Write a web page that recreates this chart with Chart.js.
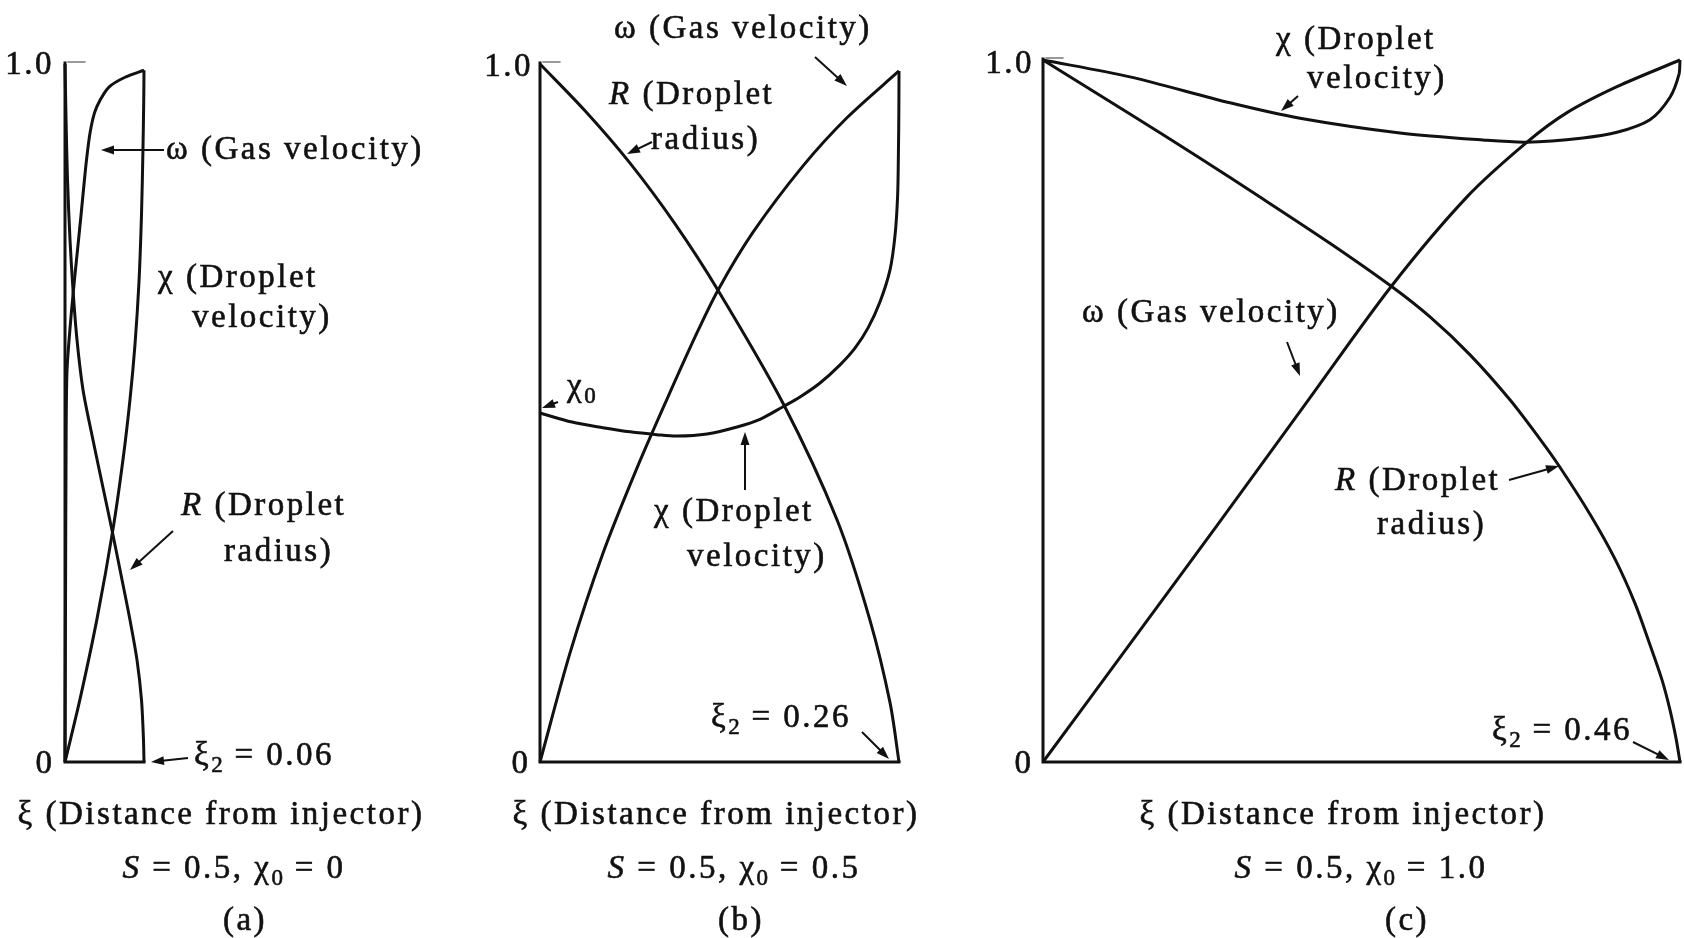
<!DOCTYPE html>
<html>
<head>
<meta charset="utf-8">
<script src="https://cdn.jsdelivr.net/npm/chart.js@4.4.1/dist/chart.umd.min.js"></script>
<style>
  html, body { margin: 0; background: #fff; }
  #wrap { position: relative; width: 1684px; height: 938px; }
  #wrap canvas { position: absolute; left: 0; top: 0; }
</style>
</head>
<body>
<div id="wrap">
  <canvas id="panelA" width="1684" height="938"></canvas>
  <canvas id="panelB" width="1684" height="938"></canvas>
  <canvas id="panelC" width="1684" height="938"></canvas>
</div>
<script>
// ---- datos: distancia adimensional xi y curvas omega / chi / R ----
const xiEndA = 0.06, xiEndB = 0.26, xiEndC = 0.46;

// (a) S = 0.5, chi0 = 0
const omegaA_xi = [0, 0.0004, 0.0008, 0.0015, 0.0042, 0.0072, 0.0099, 0.0122, 0.0144, 0.0163, 0.019, 0.0224, 0.0266, 0.0334, 0.0456, 0.06];
const omegaA    = [0, 0.232, 0.44, 0.559, 0.63, 0.691, 0.741, 0.784, 0.827, 0.862, 0.901, 0.93, 0.948, 0.967, 0.981, 0.991];
const chiA_xi   = [0, 0.0114, 0.0243, 0.0365, 0.0441, 0.0494, 0.0532, 0.0562, 0.0581, 0.0592, 0.0598, 0.06];
const chiA      = [0, 0.09, 0.205, 0.334, 0.434, 0.52, 0.599, 0.688, 0.784, 0.877, 0.948, 0.991];
const rA_xi     = [0, 0.0008, 0.0019, 0.0038, 0.0061, 0.0091, 0.0137, 0.0213, 0.0292, 0.0357, 0.0433, 0.0494, 0.0547, 0.0581, 0.0596, 0.06];
const rA        = [1, 0.92, 0.834, 0.748, 0.676, 0.605, 0.533, 0.461, 0.39, 0.332, 0.261, 0.203, 0.146, 0.089, 0.032, 0];

// (b) S = 0.5, chi0 = 0.5
const omegaB_xi = [0, 0.0217, 0.0456, 0.0702, 0.092, 0.1123, 0.1289, 0.1543, 0.1905, 0.2223, 0.26];
const omegaB    = [0, 0.156, 0.299, 0.421, 0.52, 0.609, 0.676, 0.759, 0.854, 0.923, 0.99];
const chiB_xi   = [0, 0.0232, 0.0456, 0.0652, 0.0847, 0.0992, 0.1209, 0.1427, 0.1593, 0.176, 0.1883, 0.2028, 0.2173, 0.2281, 0.2376, 0.2462, 0.2535, 0.2571, 0.259, 0.2596, 0.2599, 0.26];
const chiB      = [0.5, 0.487, 0.479, 0.473, 0.469, 0.467, 0.47, 0.48, 0.491, 0.509, 0.523, 0.543, 0.569, 0.593, 0.622, 0.659, 0.705, 0.754, 0.811, 0.876, 0.934, 0.99];
const rB_xi     = [0, 0.0326, 0.0652, 0.0978, 0.1289, 0.176, 0.2151, 0.239, 0.2535, 0.26];
const rB        = [1, 0.933, 0.858, 0.771, 0.676, 0.514, 0.347, 0.203, 0.085, 0];

// (c) S = 0.5, chi0 = 1.0
const omegaC_xi = [0, 0.0635, 0.1264, 0.1892, 0.2513, 0.3062, 0.3495, 0.3784, 0.4145, 0.46];
const omegaC    = [0, 0.17, 0.339, 0.509, 0.677, 0.805, 0.883, 0.925, 0.962, 1.0];
const chiC_xi   = [0, 0.0628, 0.135, 0.1856, 0.2578, 0.3177, 0.3495, 0.39, 0.4145, 0.4383, 0.4528, 0.4593, 0.46];
const chiC      = [1, 0.976, 0.939, 0.917, 0.896, 0.886, 0.883, 0.889, 0.897, 0.915, 0.947, 0.98, 1.0];
const rC_xi     = [0, 0.0628, 0.1112, 0.1589, 0.2072, 0.2513, 0.2795, 0.3084, 0.3372, 0.3589, 0.3726, 0.395, 0.4131, 0.4275, 0.4383, 0.447, 0.4528, 0.4571, 0.46];
const rC        = [1, 0.923, 0.863, 0.802, 0.739, 0.678, 0.634, 0.58, 0.516, 0.46, 0.422, 0.353, 0.289, 0.226, 0.167, 0.117, 0.074, 0.034, 0];

const INK = '#111';
const FONT = '"Liberation Serif", "DejaVu Serif", serif';

// textos y flechas de cada panel (pixeles de pagina)
// partes: [texto, estilo] con estilo 'i' = cursiva, 's' = subindice
const notesA = [
  { parts: [['1.0']], x: 54, y: 74, align: 'right' },
  { parts: [['0']], x: 45, y: 773, align: 'center' },
  { parts: [['ω'], [' (Gas velocity)']], x: 166, y: 159 },
  { parts: [['χ'], [' (Droplet']], x: 158, y: 287 },
  { parts: [['velocity)']], x: 192, y: 327 },
  { parts: [['R', 'i'], [' (Droplet']], x: 181, y: 515 },
  { parts: [['radius)']], x: 224, y: 561 },
  { parts: [['ξ'], ['2', 's'], [' = 0.06']], x: 194, y: 765 },
  { parts: [['ξ'], [' (Distance from injector)']], x: 221, y: 824, align: 'center' },
  { parts: [['S', 'i'], [' = 0.5, '], ['χ'], ['0', 's'], [' = 0']], x: 234, y: 878, align: 'center' },
  { parts: [['(a)']], x: 245, y: 930, align: 'center' }
];
const arrowsA = [
  { from: [164, 150], to: [101, 150] },
  { from: [173, 531], to: [130, 570] },
  { from: [188, 758], to: [151, 762] }
];

const notesB = [
  { parts: [['1.0']], x: 533, y: 76, align: 'right' },
  { parts: [['0']], x: 521, y: 773, align: 'center' },
  { parts: [['ω'], [' (Gas velocity)']], x: 614, y: 38 },
  { parts: [['R', 'i'], [' (Droplet']], x: 609, y: 104 },
  { parts: [['radius)']], x: 651, y: 149 },
  { parts: [['χ'], ['0', 's']], x: 567, y: 396 },
  { parts: [['χ'], [' (Droplet']], x: 654, y: 521 },
  { parts: [['velocity)']], x: 687, y: 566 },
  { parts: [['ξ'], ['2', 's'], [' = 0.26']], x: 711, y: 727 },
  { parts: [['ξ'], [' (Distance from injector)']], x: 716, y: 824, align: 'center' },
  { parts: [['S', 'i'], [' = 0.5, '], ['χ'], ['0', 's'], [' = 0.5']], x: 734, y: 878, align: 'center' },
  { parts: [['(b)']], x: 741, y: 930, align: 'center' }
];
const arrowsB = [
  { from: [815, 57], to: [847, 86] },
  { from: [652, 142], to: [627, 154] },
  { from: [558, 402], to: [542, 408] },
  { from: [745, 490], to: [745, 432] },
  { from: [862, 732], to: [889, 759] }
];

const notesC = [
  { parts: [['1.0']], x: 1034, y: 73, align: 'right' },
  { parts: [['0']], x: 1024, y: 773, align: 'center' },
  { parts: [['χ'], [' (Droplet']], x: 1276, y: 49 },
  { parts: [['velocity)']], x: 1307, y: 88 },
  { parts: [['ω'], [' (Gas velocity)']], x: 1082, y: 322 },
  { parts: [['R', 'i'], [' (Droplet']], x: 1335, y: 490 },
  { parts: [['radius)']], x: 1377, y: 534 },
  { parts: [['ξ'], ['2', 's'], [' = 0.46']], x: 1492, y: 740 },
  { parts: [['ξ'], [' (Distance from injector)']], x: 1343, y: 824, align: 'center' },
  { parts: [['S', 'i'], [' = 0.5, '], ['χ'], ['0', 's'], [' = 1.0']], x: 1361, y: 878, align: 'center' },
  { parts: [['(c)']], x: 1407, y: 930, align: 'center' }
];
const arrowsC = [
  { from: [1298, 96], to: [1281, 111] },
  { from: [1287, 342], to: [1300, 376] },
  { from: [1509, 480], to: [1559, 466] },
  { from: [1633, 742], to: [1669, 760] }
];

function pts(xs, ys) {
  return xs.map((x, i) => ({ x: x, y: ys[i] }));
}

function partFont(style) {
  if (style === 's') return '23px ' + FONT;
  return (style === 'i' ? 'italic ' : '') + '33px ' + FONT;
}

function drawParts(ctx, note) {
  let total = 0;
  const segs = note.parts.map(p => {
    ctx.font = partFont(p[1]);
    ctx.letterSpacing = p[1] === 's' ? '1px' : '2.5px';
    const w = ctx.measureText(p[0]).width;
    total += w;
    return { text: p[0], style: p[1], w: w };
  });
  let x = note.x;
  if (note.align === 'center') x -= total / 2;
  if (note.align === 'right') x -= total;
  segs.forEach(s => {
    ctx.font = partFont(s.style);
    ctx.letterSpacing = s.style === 's' ? '1px' : '2.5px';
    const y = note.y + (s.style === 's' ? 7 : 0);
    ctx.fillText(s.text, x, y);
    ctx.strokeText(s.text, x, y);
    x += s.w;
  });
}

function drawArrow(ctx, a) {
  const [x1, y1] = a.from, [x2, y2] = a.to;
  const ang = Math.atan2(y2 - y1, x2 - x1);
  const len = 13, half = 4.5;
  ctx.beginPath();
  ctx.moveTo(x1, y1);
  ctx.lineTo(x2 - Math.cos(ang) * len * 0.7, y2 - Math.sin(ang) * len * 0.7);
  ctx.lineWidth = 2;
  ctx.stroke();
  ctx.beginPath();
  ctx.moveTo(x2, y2);
  ctx.lineTo(x2 - Math.cos(ang) * len - Math.sin(ang) * half, y2 - Math.sin(ang) * len + Math.cos(ang) * half);
  ctx.lineTo(x2 - Math.cos(ang) * len + Math.sin(ang) * half, y2 - Math.sin(ang) * len - Math.cos(ang) * half);
  ctx.closePath();
  ctx.fill();
}

// ejes, marca de 1.0, textos y flechas
const figurePlugin = {
  id: 'figura',
  beforeDatasetsDraw(chart, args, opts) {
    const ctx = chart.ctx;
    const xs = chart.scales.x, ys = chart.scales.y;
    const x0 = xs.getPixelForValue(0), x1 = xs.getPixelForValue(xs.max);
    const y0 = ys.getPixelForValue(0), y1 = ys.getPixelForValue(1);
    ctx.save();
    ctx.strokeStyle = INK;
    ctx.lineCap = 'square';
    ctx.lineWidth = 3;
    ctx.beginPath();
    ctx.moveTo(x0, y1 - 1);
    ctx.lineTo(x0, y0);
    ctx.lineTo(x1, y0);
    ctx.stroke();
    ctx.lineWidth = 1.2;
    ctx.strokeStyle = '#555';
    ctx.beginPath();
    ctx.moveTo(x0 + 3, y1 - 2);
    ctx.lineTo(x0 + 20, y1 - 2);
    ctx.stroke();
    ctx.restore();
  },
  afterDatasetsDraw(chart, args, opts) {
    const ctx = chart.ctx;
    ctx.save();
    ctx.fillStyle = INK;
    ctx.strokeStyle = INK;
    ctx.lineWidth = 0.6;
    ctx.textBaseline = 'alphabetic';
    ctx.textAlign = 'left';
    opts.notes.forEach(n => drawParts(ctx, n));
    opts.arrows.forEach(a => drawArrow(ctx, a));
    ctx.restore();
  }
};

function curve(label, xs, ys) {
  return {
    label: label,
    data: pts(xs, ys),
    showLine: true,
    borderColor: INK,
    borderWidth: 3,
    pointRadius: 0,
    tension: 0.3,
    fill: false,
    clip: false
  };
}

function makePanel(id, xiEnd, area, series, notes, arrows) {
  new Chart(document.getElementById(id), {
    type: 'scatter',
    data: { datasets: series },
    options: {
      responsive: false,
      animation: false,
      events: [],
      layout: {
        padding: { left: area.left, right: 1684 - area.right, top: area.top, bottom: 938 - area.bottom }
      },
      scales: {
        x: { type: 'linear', display: false, min: 0, max: xiEnd },
        y: { type: 'linear', display: false, min: 0, max: 1 }
      },
      plugins: {
        legend: { display: false },
        tooltip: { enabled: false },
        figura: { notes: notes, arrows: arrows }
      }
    },
    plugins: [figurePlugin]
  });
}

makePanel('panelA', xiEndA, { left: 65, right: 144, top: 64, bottom: 762 }, [
  curve('ω', omegaA_xi, omegaA),
  curve('χ', chiA_xi, chiA),
  curve('R', rA_xi, rA)
], notesA, arrowsA);

makePanel('panelB', xiEndB, { left: 540, right: 899, top: 64, bottom: 762 }, [
  curve('ω', omegaB_xi, omegaB),
  curve('χ', chiB_xi, chiB),
  curve('R', rB_xi, rB)
], notesB, arrowsB);

makePanel('panelC', xiEndC, { left: 1043, right: 1680, top: 60, bottom: 762 }, [
  curve('ω', omegaC_xi, omegaC),
  curve('χ', chiC_xi, chiC),
  curve('R', rC_xi, rC)
], notesC, arrowsC);
</script>
</body>
</html>
